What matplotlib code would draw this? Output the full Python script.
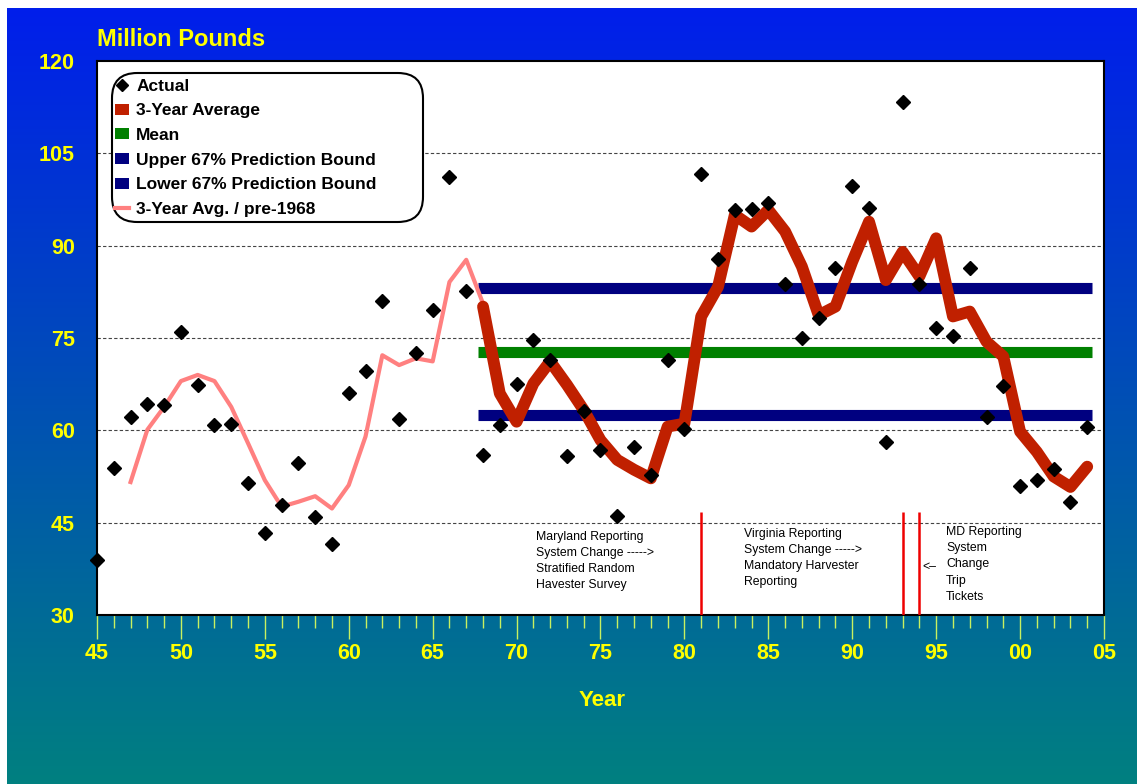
import matplotlib.pyplot as plt
import numpy as np
from matplotlib.lines import Line2D
from matplotlib.patches import Patch, FancyBboxPatch

plt.rcParams['font.family'] = ['Liberation Sans', 'DejaVu Sans']

# Actual harvest, 1945-2004 (million pounds)
years = np.arange(1945, 2005)
actual = [39.0, 53.9, 62.2, 64.2, 64.1, 75.9, 67.4, 60.8, 61.1, 51.4,
          43.4, 47.8, 54.7, 45.9, 41.5, 66.1, 69.6, 81.0, 61.9, 72.6,
          79.5, 101.2, 82.6, 56.0, 60.8, 67.6, 74.6, 71.4, 55.8, 63.1,
          56.8, 46.1, 57.3, 52.7, 71.4, 60.2, 101.6, 87.8, 95.8, 95.9,
          97.0, 83.7, 75.0, 78.3, 86.3, 99.7, 96.1, 58.1, 113.3, 83.8,
          76.7, 75.4, 86.3, 62.1, 67.2, 50.9, 51.9, 53.7, 48.4, 60.5]

# 3-year average, pre-1968 (pink)
pre_years = np.arange(1947, 1969)
pre_avg = [51.6, 60.1, 63.8, 68.0, 69.0, 68.0, 63.8, 57.9, 51.9, 47.6,
           48.4, 49.3, 47.3, 51.1, 59.0, 72.2, 70.6, 71.7, 71.2, 84.1,
           87.7, 80.6]

# 3-year average, 1968 on (red)
avg_years = np.arange(1968, 2005)
avg3 = [80.1, 66.0, 61.4, 67.6, 71.2, 67.4, 63.3, 58.4, 55.2, 53.6,
        52.2, 60.6, 61.1, 78.5, 83.3, 95.0, 93.1, 95.8, 92.3, 86.6,
        78.7, 80.1, 87.4, 93.9, 84.4, 89.0, 85.0, 91.2, 78.5, 79.3,
        74.4, 72.0, 59.8, 56.5, 52.5, 50.8, 54.1]

mean_val = 72.8
upper_val = 83.1
lower_val = 62.5
band_start, band_end = 1967.7, 2004.3

change_years = [1981, 1993, 1994]

fig = plt.figure(figsize=(11.37, 7.84), dpi=100)
fig.patch.set_facecolor('white')

# gradient background
bg = fig.add_axes([7 / 1137, 0, 1130 / 1137, 776 / 784])
top = np.array([0, 30, 235]) / 255
bot = np.array([0, 128, 128]) / 255
t = np.linspace(0, 1, 256)[:, None]
grad = (top[None, :] * (1 - t) + bot[None, :] * t)[:, None, :]
bg.imshow(grad, aspect='auto', extent=[0, 1, 0, 1])
bg.set_axis_off()

W, H = 1137, 784
ax = fig.add_axes([97 / W, 1 - 615 / H, (1104 - 97) / W, (615 - 61) / H])
ax.set_facecolor('white')
ax.set_xlim(1945, 2005)
ax.set_ylim(30, 120)

for y in [45, 60, 75, 90, 105]:
    ax.axhline(y, color='#444444', lw=0.8, ls=(0, (3, 2)), zorder=1)

ax.hlines([upper_val, lower_val], band_start, band_end, color='#000080', lw=8, zorder=2)
ax.hlines(mean_val, band_start, band_end, color='#008000', lw=8, zorder=2)

ax.plot(pre_years, pre_avg, color='#FF8080', lw=3, zorder=3)
ax.plot(avg_years, avg3, color='#C02000', lw=8.5, solid_capstyle='round',
        solid_joinstyle='round', zorder=4)
ax.plot(years, actual, 'D', color='black', ms=7.5, ls='none', zorder=5, clip_on=False)

ax.vlines(change_years, 30, 46.7, color='#EE0000', lw=1.8, zorder=3)

txt = dict(fontsize=8.8, color='black', va='top', ha='left', linespacing=1.45)
ax.text(1971.15, 43.6, 'Maryland Reporting\nSystem Change ----->\nStratified Random\nHavester Survey', **txt)
ax.text(1983.55, 44.1, 'Virginia Reporting\nSystem Change ----->\nMandatory Harvester\nReporting', **txt)
ax.text(1995.6, 44.4, 'MD Reporting\nSystem\nChange\nTrip\nTickets', **txt)
ax.text(1994.2, 37.75, '<\u2013', fontsize=8.8, color='black', va='center', ha='left')

for s in ax.spines.values():
    s.set_color('black')
    s.set_linewidth(1.5)

yt = [30, 45, 60, 75, 90, 105, 120]
ax.set_yticks(yt)
ax.set_yticklabels([str(v) for v in yt])
ax.tick_params(axis='y', length=0, pad=16, labelsize=15.5, labelcolor='#FFFF00')
xt = list(range(1945, 2006, 5))
ax.set_xticks(xt)
ax.set_xticklabels([f'{v % 100:02d}' for v in xt])
ax.set_xticks(range(1945, 2006), minor=True)
ax.tick_params(axis='x', which='major', length=17, width=1, color='#C8F060', pad=3.5,
               labelsize=15.5, labelcolor='#FFFF00')
ax.tick_params(axis='x', which='minor', length=9, width=1, color='#C8F060')
for lab in ax.get_xticklabels() + ax.get_yticklabels():
    lab.set_fontweight('bold')

fig.text(97 / W, 1 - 40 / H, 'Million Pounds', color='#FFFF00', fontsize=17,
         fontweight='bold', ha='left', va='center')
fig.text(602 / W, 1 - 700 / H, 'Year', color='#FFFF00', fontsize=16,
         fontweight='bold', ha='center', va='center')

# legend frame drawn by hand (rounded box with extra room on the right)
x0, y0 = (112 - 97) / 1007, 1 - (222 - 61) / 554
x1, y1 = (423 - 97) / 1007, 1 - (73 - 61) / 554
frame = FancyBboxPatch((x0, y0), x1 - x0, y1 - y0, transform=ax.transAxes,
                       boxstyle='round,pad=0,rounding_size=0.025',
                       mutation_aspect=(1007 / 554),
                       facecolor='white', edgecolor='black', lw=1.5, zorder=6)
ax.add_patch(frame)

handles = [
    Line2D([], [], marker='D', color='black', ls='none', ms=6.5),
    Patch(facecolor='#C02000'),
    Patch(facecolor='#008000'),
    Patch(facecolor='#000080'),
    Patch(facecolor='#000080'),
    Line2D([], [], color='#FF8080', lw=3),
]
labels = ['Actual', '3-Year Average', 'Mean', 'Upper 67% Prediction Bound',
          'Lower 67% Prediction Bound', '3-Year Avg. / pre-1968']
leg = ax.legend(handles, labels, loc='upper left',
                bbox_to_anchor=(x0, y1 - 3 / 554),
                borderaxespad=0, frameon=False,
                prop={'weight': 'bold', 'size': 12.5}, handlelength=0.85,
                handleheight=0.6, handletextpad=0.4, labelspacing=0.56,
                borderpad=0.15)
leg.set_zorder(7)

fig.savefig('out.png', dpi=100)
